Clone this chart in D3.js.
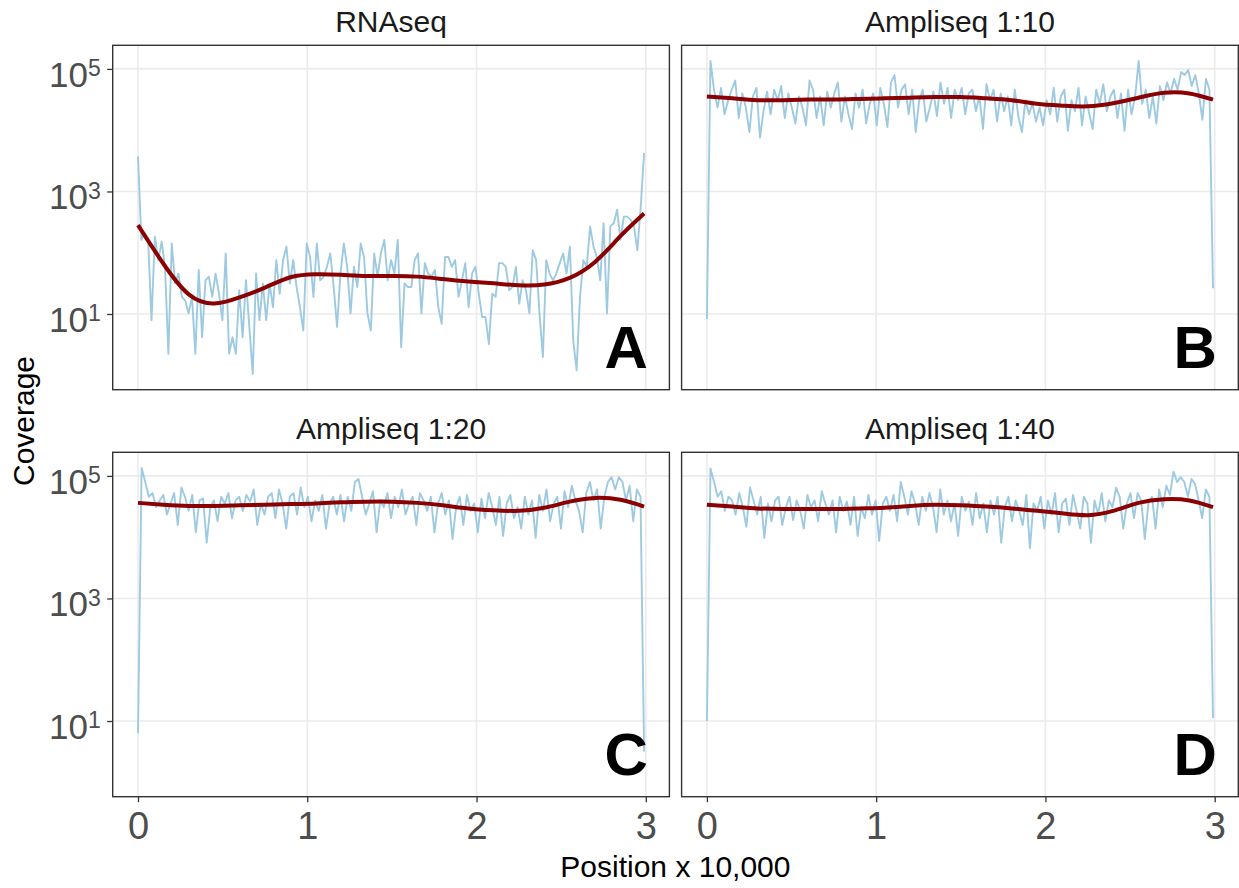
<!DOCTYPE html>
<html>
<head>
<meta charset="utf-8">
<script src="https://cdn.jsdelivr.net/npm/d3@7"></script>
<style>
body { margin: 0; background: #fff; }
svg { display: block; font-family: "Liberation Sans", Arial, Helvetica, sans-serif; }
</style>
</head>
<body>
<svg width="1239" height="888"></svg>
<script>
// positions are in units of 10,000 bp, coverage kept as log10(coverage)
var genomeLength = 2.99;

var panelTitles = ["RNAseq", "Ampliseq 1:10", "Ampliseq 1:20", "Ampliseq 1:40"];
var panelLetters = ["A", "B", "C", "D"];

var xTicks = [0, 1, 2, 3];
var yTickExps = [1, 3, 5];

var rnaseqLog = [3.57, 2.21, 2.32, 2.21, 0.90, 2.26, 1.88, 2.18, 1.77, 0.35,
  2.15, 1.50, 1.66, 1.28, 1.22, 1.01, 1.28, 0.35, 1.72, 0.62,
  1.55, 1.61, 1.28, 1.66, 1.33, 0.90, 1.99, 0.35, 0.62, 0.35,
  1.39, 0.62, 1.55, 0.79, 0.02, 1.66, 0.90, 1.50, 0.90, 1.50,
  1.11, 1.88, 1.33, 1.88, 2.10, 1.50, 1.88, 1.44, 1.11, 0.73,
  2.15, 1.93, 1.28, 2.15, 1.55, 1.61, 1.77, 1.99, 1.44, 0.79,
  1.66, 2.15, 1.77, 1.01, 1.77, 1.44, 2.15, 1.93, 1.01, 0.73,
  1.99, 1.61, 1.99, 2.21, 1.55, 1.88,
  1.66, 2.21, 0.46, 1.50, 1.44, 1.44, 1.88, 1.99, 1.01, 1.83,
  1.66, 1.61, 1.72, 1.11, 0.84, 1.93, 1.93, 1.77, 1.88, 1.28,
  1.55, 1.83, 1.11, 1.66, 1.77, 1.33, 0.95, 0.95, 0.51, 1.33,
  1.28, 1.83, 1.83, 1.77, 1.39, 1.44, 1.77, 1.17, 1.55, 1.39,
  1.01, 2.04, 1.88, 1.01, 0.30, 1.88, 1.66, 1.55, 1.66, 1.83,
  1.99, 1.66, 2.10, 0.57, 0.08, 1.28, 1.88, 1.77, 2.43, 2.10,
  1.93, 1.55, 2.48, 1.01, 2.43, 2.48, 2.70, 2.21, 2.59, 2.59,
  2.54, 2.43, 2.04, 2.75, 3.63];

var ampli10Log = [0.92, 5.13, 4.66, 4.37, 4.69, 4.26, 4.49, 4.66, 4.81, 4.20,
  4.60, 4.37, 3.97, 4.55, 4.69, 3.88, 4.31, 4.63, 4.26, 4.66,
  4.49, 4.72, 4.20, 4.60, 4.37, 4.11, 4.55, 4.37, 4.08, 4.81,
  4.66, 4.20, 4.55, 4.08, 4.63, 4.37, 4.60, 4.78, 4.14, 4.55,
  4.26, 4.02, 4.60, 4.37, 4.66, 4.11, 4.43, 4.60, 4.08, 4.69,
  4.43, 4.05, 4.78, 4.90, 4.37, 4.66, 4.75, 4.26, 4.66, 3.97,
  4.49, 4.66, 4.14, 4.37, 4.63, 4.23, 4.78, 4.43, 4.69, 4.20,
  4.66, 4.49, 4.69, 4.26, 4.60, 4.66, 4.31, 4.55, 4.02, 4.75,
  4.49, 4.66, 4.14, 4.60, 4.31, 4.55, 4.08, 4.66, 4.23, 3.97,
  4.49, 4.26, 4.43, 4.14, 4.37, 4.08, 4.49, 4.26, 4.69, 4.14,
  4.55, 4.66, 3.99, 4.49, 4.31, 4.69, 4.08, 4.55, 4.28, 4.02,
  4.66, 4.43, 4.75, 4.31, 4.55, 4.66, 4.20, 4.60, 3.99, 4.66,
  4.26, 4.55, 5.13, 4.43, 4.66, 4.20, 4.55, 4.11, 4.72, 4.49,
  4.78, 4.60, 4.84, 4.66, 4.95, 4.90, 4.98, 4.72, 4.90, 4.60,
  4.17, 4.84, 4.66, 1.42];

var ampli20Log = [0.80, 5.13, 4.90, 4.66, 4.72, 4.49, 4.60, 4.69, 4.37, 4.55,
  4.72, 4.20, 4.81, 4.66, 4.43, 4.69, 4.08, 4.60, 4.63, 3.91,
  4.49, 4.60, 4.26, 4.66, 4.55, 4.72, 4.31, 4.60, 4.66, 4.43,
  4.69, 4.58, 4.78, 4.20, 4.55, 4.37, 4.66, 4.72, 4.31, 4.78,
  4.55, 4.14, 4.66, 4.72, 4.37, 4.81, 4.49, 4.66, 4.26, 4.60,
  4.43, 4.69, 4.14, 4.55, 4.66, 4.37, 4.69, 4.26, 4.66, 4.43,
  4.90, 4.95, 4.66, 4.37, 4.55, 4.75, 4.08, 4.60, 4.49, 4.72,
  4.31, 4.66, 4.49, 4.78, 4.37, 4.55, 4.66, 4.20, 4.72, 4.60,
  4.43, 4.66, 4.08, 4.55, 4.72, 4.37, 4.60, 3.97, 4.49, 4.66,
  4.20, 4.69, 4.43, 4.55, 4.08, 4.63, 4.31, 4.72, 4.49, 4.20,
  4.66, 4.02, 4.55, 4.69, 4.31, 4.49, 4.14, 4.66, 4.37, 4.60,
  3.99, 4.69, 4.43, 4.78, 4.26, 4.55, 4.66, 4.14, 4.75, 4.49,
  4.84, 4.60, 4.43, 4.08, 4.72, 4.90, 4.60, 4.78, 4.14, 4.66,
  4.90, 4.98, 4.78, 4.98, 4.90, 4.60, 4.84, 4.26, 4.78, 4.66,
  0.50];

var ampli40Log = [1.00, 5.12, 4.90, 4.66, 4.75, 4.43, 4.66, 4.60, 4.37, 4.72,
  4.49, 4.17, 4.81, 4.60, 4.37, 4.66, 3.99, 4.55, 4.26, 4.60,
  4.66, 4.20, 4.49, 4.66, 4.28, 4.60, 4.43, 4.14, 4.69, 4.49,
  4.60, 4.26, 4.75, 4.55, 4.37, 4.60, 4.08, 4.66, 4.43, 4.58,
  4.20, 4.66, 4.02, 4.49, 4.31, 4.69, 4.37, 4.60, 3.94, 4.55,
  4.66, 4.43, 4.69, 4.26, 4.90, 4.66, 4.37, 4.75, 4.55, 4.20,
  4.66, 4.43, 4.72, 4.49, 4.08, 4.78, 4.37, 4.60, 4.26, 4.55,
  4.02, 4.66, 4.43, 4.58, 4.20, 4.72, 4.31, 4.55, 4.08, 4.60,
  4.37, 4.66, 3.91, 4.49, 4.66, 4.26, 4.60, 4.43, 4.20, 4.69,
  3.82, 4.55, 4.43, 4.66, 4.14, 4.60, 4.37, 4.72, 4.08, 4.55,
  4.63, 4.20, 4.69, 4.43, 4.14, 4.66, 4.55, 3.91, 4.60, 4.37,
  4.72, 4.26, 4.60, 4.49, 4.81, 4.66, 4.14, 4.55, 4.72, 4.31,
  4.72, 4.60, 3.97, 4.55, 4.66, 4.14, 4.78, 4.49, 4.84, 4.69,
  5.07, 4.90, 4.98, 4.90, 4.66, 4.95, 4.87, 4.60, 4.31, 4.78,
  4.66, 1.05];

// loess fits, read at fixed positions
var smoothPos = [0, 0.15, 0.3, 0.45, 0.6, 0.75, 0.9, 1.05, 1.2, 1.35, 1.5,
  1.65, 1.8, 1.95, 2.1, 2.25, 2.4, 2.55, 2.7, 2.85, 2.99];
var rnaseqSmooth = [2.45, 1.82, 1.32, 1.17, 1.27, 1.43, 1.60, 1.65, 1.64, 1.62, 1.62,
  1.61, 1.57, 1.53, 1.50, 1.47, 1.48, 1.59, 1.85, 2.27, 2.64];
var ampli10Smooth = [4.55, 4.52, 4.49, 4.49, 4.50, 4.50, 4.51, 4.52, 4.53, 4.54, 4.54,
  4.52, 4.49, 4.43, 4.40, 4.39, 4.44, 4.53, 4.61, 4.60, 4.50];
var ampli20Smooth = [4.56, 4.53, 4.51, 4.51, 4.52, 4.53, 4.54, 4.55, 4.57, 4.58, 4.58,
  4.56, 4.52, 4.47, 4.44, 4.43, 4.48, 4.58, 4.64, 4.61, 4.50];
var ampli40Smooth = [4.53, 4.50, 4.47, 4.46, 4.46, 4.46, 4.47, 4.48, 4.51, 4.53, 4.52,
  4.50, 4.47, 4.43, 4.39, 4.36, 4.43, 4.56, 4.62, 4.60, 4.49];

var seriesLog = [rnaseqLog, ampli10Log, ampli20Log, ampli40Log];
var smoothLog = [rnaseqSmooth, ampli10Smooth, ampli20Smooth, ampli40Smooth];

var svg = d3.select("svg");

var panelW = 556.7, panelH = 344.4;
var panelLeft = [112.7, 681.6, 112.7, 681.6];
var panelTop = [45.3, 45.3, 452.3, 452.3];

// shared scales with ggplot style 5% expansion
var xPad = genomeLength * 0.05;
var x = d3.scaleLinear()
    .domain([-xPad, genomeLength + xPad])
    .range([0, panelW]);

var allLog = d3.merge(seriesLog);
var lo = d3.min(allLog), hi = d3.max(allLog);
var yPad = (hi - lo) * 0.05;
var y = d3.scaleLog()
    .domain([Math.pow(10, lo - yPad), Math.pow(10, hi + yPad)])
    .range([panelH, 0]);

var covLine = d3.line()
    .x(function (d) {return x(d.pos);})
    .y(function (d) {return y(d.cov);});

var smoothLine = d3.line()
    .curve(d3.curveNatural)
    .x(function (d) {return x(d.pos);})
    .y(function (d) {return y(d.cov);});

for (var p = 0; p < 4; p++) drawPanel(p);

function drawPanel(p) {
    var g = svg.append("g")
        .attr("transform", "translate(" + panelLeft[p] + "," + panelTop[p] + ")");

    var vals = seriesLog[p];
    var pts = vals.map(function (v, i) {
        return {pos: i * genomeLength / (vals.length - 1), cov: Math.pow(10, v)};
    });
    var fit = smoothLog[p].map(function (v, i) {
        return {pos: smoothPos[i], cov: Math.pow(10, v)};
    });

    // grid
    g.selectAll(".gx").data(xTicks).enter().append("line")
        .attr("x1", function (d) {return x(d);})
        .attr("x2", function (d) {return x(d);})
        .attr("y1", 0).attr("y2", panelH)
        .attr("stroke", "#ebebeb").attr("stroke-width", 1.6);
    g.selectAll(".gy").data(yTickExps).enter().append("line")
        .attr("x1", 0).attr("x2", panelW)
        .attr("y1", function (d) {return y(Math.pow(10, d));})
        .attr("y2", function (d) {return y(Math.pow(10, d));})
        .attr("stroke", "#ebebeb").attr("stroke-width", 1.6);

    g.append("path")
        .datum(pts)
        .attr("d", covLine)
        .attr("fill", "none")
        .attr("stroke", "#9ecae1")
        .attr("stroke-width", 1.9)
        .attr("stroke-linejoin", "round");

    g.append("path")
        .datum(fit)
        .attr("d", smoothLine)
        .attr("fill", "none")
        .attr("stroke", "#8b0000")
        .attr("stroke-width", 4)
        .attr("stroke-linecap", "butt");

    g.append("rect")
        .attr("width", panelW).attr("height", panelH)
        .attr("fill", "none")
        .attr("stroke", "#333333")
        .attr("stroke-width", 1.4);

    // facet title
    g.append("text")
        .attr("x", panelW / 2).attr("y", -13)
        .attr("text-anchor", "middle")
        .attr("font-size", 30)
        .attr("fill", "#1a1a1a")
        .text(panelTitles[p]);

    // panel letter
    g.append("text")
        .attr("x", panelW - 21.5).attr("y", panelH - 21.7)
        .attr("text-anchor", "end")
        .attr("font-size", 60)
        .attr("font-weight", "bold")
        .attr("fill", "#000")
        .text(panelLetters[p]);

    if (p % 2 === 0) {
        var ya = g.append("g")
            .call(d3.axisLeft(y).tickValues(yTickExps.map(function (e) {return Math.pow(10, e);}))
                  .tickSize(5.5).tickFormat(""));
        ya.select(".domain").remove();
        ya.selectAll("line").attr("stroke", "#333333").attr("stroke-width", 1.3);

        var lab = g.selectAll(".ylab").data(yTickExps).enter().append("text")
            .attr("x", -12)
            .attr("y", function (d) {return y(Math.pow(10, d)) + 18;})
            .attr("text-anchor", "end")
            .attr("fill", "#4d4d4d")
            .attr("font-size", 35);
        lab.append("tspan").text("10");
        lab.append("tspan")
            .attr("dy", -10.5)
            .attr("font-size", 23)
            .text(function (d) {return d;});
    }

    if (p >= 2) {
        var xa = g.append("g")
            .attr("transform", "translate(0," + panelH + ")")
            .call(d3.axisBottom(x).tickValues(xTicks).tickSize(5.5).tickFormat(d3.format("d")));
        xa.select(".domain").remove();
        xa.selectAll("line").attr("stroke", "#333333").attr("stroke-width", 1.3);
        xa.selectAll("text")
            .attr("y", 42.6).attr("dy", 0)
            .attr("fill", "#4d4d4d")
            .attr("font-size", 38)
            .attr("font-family", "Liberation Sans, Arial, sans-serif");
    }
}

svg.append("text")
    .attr("x", 675.4).attr("y", 877)
    .attr("text-anchor", "middle")
    .attr("font-size", 30)
    .attr("fill", "#000")
    .text("Position x 10,000");

svg.append("text")
    .attr("transform", "translate(33.5,421) rotate(-90)")
    .attr("text-anchor", "middle")
    .attr("font-size", 30)
    .attr("fill", "#000")
    .text("Coverage");
</script>
</body>
</html>
